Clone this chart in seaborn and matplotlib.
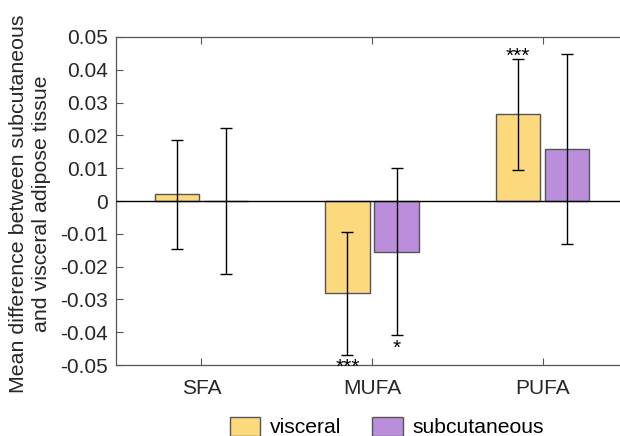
import matplotlib
matplotlib.use("Agg")
import matplotlib.pyplot as plt
import seaborn as sns
import pandas as pd
import numpy as np

# Fatty acid classes and the two tissue groups
categories = ["SFA", "MUFA", "PUFA"]
groups = ["visceral", "subcutaneous"]

# Mean differences and error half-widths per group
visceral_mean = [0.0020, -0.0282, 0.0265]
visceral_err = [0.0167, 0.0186, 0.0169]
subcutaneous_mean = [0.0000, -0.0154, 0.0158]
subcutaneous_err = [0.0222, 0.0255, 0.0289]

# Significance markers (category, group, text, side)
stars = [("PUFA", "visceral", "***", "above"),
         ("MUFA", "visceral", "***", "below"),
         ("MUFA", "subcutaneous", "*", "below")]

ytick_values = [0.05, 0.04, 0.03, 0.02, 0.01, 0, -0.01, -0.02, -0.03, -0.04, -0.05]

colors = {"visceral": "#FDD97E", "subcutaneous": "#BA8EDB"}
ink = "#262626"

df = pd.DataFrame({
    "category": categories * 2,
    "group": [groups[0]] * 3 + [groups[1]] * 3,
    "mean": visceral_mean + subcutaneous_mean,
    "err": visceral_err + subcutaneous_err,
})

sns.set_style("white")
plt.rcParams["font.family"] = ["Liberation Sans", "DejaVu Sans"]

fig = plt.figure(figsize=(6.2, 4.36), dpi=100)
ax = fig.add_axes([116 / 620, 1 - 365 / 436, 512 / 620, 328 / 436])

sns.barplot(data=df, x="category", y="mean", hue="group", order=categories,
            hue_order=groups, palette=colors, saturation=1, width=0.576, gap=0.1,
            edgecolor="#555555", linewidth=1.0, errorbar=None, ax=ax)

# Error bars centred on each drawn bar
centers = {}
for container, g in zip(ax.containers, groups):
    for patch, cat in zip(container.patches, categories):
        centers[(cat, g)] = patch.get_x() + patch.get_width() / 2
for g, means, errs in [("visceral", visceral_mean, visceral_err),
                       ("subcutaneous", subcutaneous_mean, subcutaneous_err)]:
    xs = [centers[(c, g)] for c in categories]
    ax.errorbar(xs, means, yerr=errs, fmt="none", ecolor="black",
                elinewidth=1.0, capsize=4.3, capthick=1.0, zorder=5)

# Significance stars
lookup = {("visceral", c): (m, e) for c, m, e in zip(categories, visceral_mean, visceral_err)}
lookup.update({("subcutaneous", c): (m, e) for c, m, e in zip(categories, subcutaneous_mean, subcutaneous_err)})
for cat, g, txt, side in stars:
    m, e = lookup[(g, cat)]
    if side == "above":
        ax.annotate(txt, (centers[(cat, g)], m + e), xytext=(0, -2.5),
                    textcoords="offset points", ha="center", va="baseline",
                    fontsize=15, color="black")
    else:
        ax.annotate(txt, (centers[(cat, g)], m - e), xytext=(0, -2.5),
                    textcoords="offset points", ha="center", va="top",
                    fontsize=15, color="black")

ax.axhline(0, color="black", linewidth=1.0, zorder=4)

ax.set_xlim(-0.5, 2.5)
ax.set_ylim(-0.05, 0.05)
ax.set_yticks(ytick_values)
ax.set_yticklabels([("%g" % v) if v != 0 else "0" for v in ytick_values])
ax.set_xlabel("")
ax.set_ylabel("")

# Two-line y label, sized so the longer line spans the axis height
ylab = fig.text(30 / 620, 1 - 204 / 436,
                "Mean difference between subcutaneous\nand visceral adipose tissue",
                rotation=90, ha="center", va="center", fontsize=14,
                color=ink, linespacing=1.3, multialignment="center")
fig.canvas.draw()
ext = ylab.get_window_extent()
ylab.set_fontsize(14 * 382 / ext.height)

ax.tick_params(axis="both", direction="in", length=5, width=0.8, color="#555555",
               labelsize=15, labelcolor=ink, top=True, bottom=True, left=True)
ax.tick_params(axis="x", pad=10)
ax.tick_params(axis="y", pad=6)
for side in ["left", "top", "bottom", "right"]:
    ax.spines[side].set_color("#555555")
    ax.spines[side].set_linewidth(0.9)

leg = ax.legend(loc="center", bbox_to_anchor=(387 / 620, 9 / 436),
                bbox_transform=fig.transFigure, ncol=2, frameon=False,
                fontsize=15.2, handlelength=1.44, handleheight=1.0,
                columnspacing=1.44, handletextpad=0.48)
for t in leg.get_texts():
    t.set_color("black")

fig.savefig("out.png", dpi=100)
